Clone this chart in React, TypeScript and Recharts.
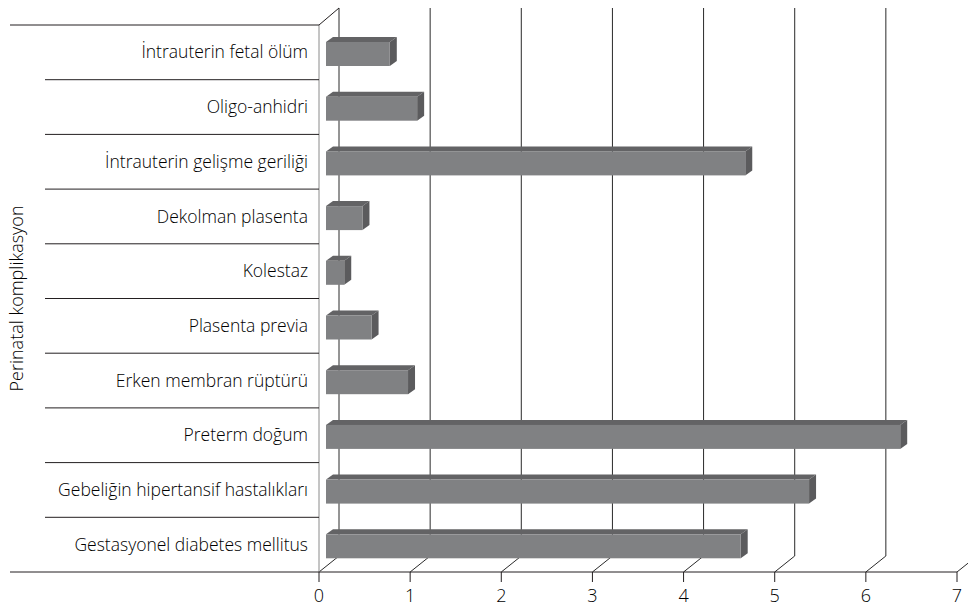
import React from 'react';
import { BarChart, Bar, XAxis, YAxis, CartesianGrid } from 'recharts';

const CATEGORIES = [
  'İntrauterin fetal ölüm',
  'Oligo-anhidri',
  'İntrauterin gelişme geriliği',
  'Dekolman plasenta',
  'Kolestaz',
  'Plasenta previa',
  'Erken membran rüptürü',
  'Preterm doğum',
  'Gebeliğin hipertansif hastalıkları',
  'Gestasyonel diabetes mellitus',
];

const VALUES = [0.7, 1.0, 4.6, 0.4, 0.2, 0.5, 0.9, 6.3, 5.3, 4.55];

const X_TICKS = [0, 1, 2, 3, 4, 5, 6, 7];

const data = CATEGORIES.map((name, i) => ({ name, value: VALUES[i] }));

// geometry of the fake 3d box
const W = 968;
const H = 609;
const PLOT_LEFT = 319;
const PLOT_TOP = 25;
const PLOT_BOTTOM = 572;
const DEPTH_X = 20;
const DEPTH_Y = 16;
const BAND = (PLOT_BOTTOM - PLOT_TOP) / CATEGORIES.length;
const FONT = '"Open Sans", sans-serif';
const TEXT = '#231f20';
const LABEL = '#000';

const Bar3D = (props: any) => {
  const { x, y, width, height } = props;
  if (width == null || width <= 0) return null;
  const fx = x + 7;
  const fy = y + 2;
  const dx = 7;
  const dy = 5;
  return (
    <g>
      <polygon
        points={`${fx},${fy} ${fx + dx},${fy - dy} ${fx + width + dx},${fy - dy} ${fx + width},${fy}`}
        fill="#636365"
      />
      <polygon
        points={`${fx + width},${fy} ${fx + width + dx},${fy - dy} ${fx + width + dx},${fy + height - dy} ${fx + width},${fy + height}`}
        fill="#5b5b5d"
      />
      <rect x={fx} y={fy} width={width} height={height} fill="#808183" />
    </g>
  );
};

// back wall gridlines, shifted into depth, with the floor diagonal
const GridLine = (props: any) => {
  const { x1, index } = props;
  const bx = x1 + DEPTH_X;
  const by = PLOT_BOTTOM - DEPTH_Y;
  return (
    <g key={`g-${index}`}>
      <line x1={x1} y1={PLOT_BOTTOM} x2={bx} y2={by} stroke="#2a2a2a" strokeWidth={1} />
      {bx < W && <line x1={bx} y1={by} x2={bx} y2={8} stroke="#2a2a2a" strokeWidth={1} />}
    </g>
  );
};

const CategoryTick = (props: any) => {
  const { x, y, payload, index } = props;
  const top = y - BAND / 2;
  const bottom = y + BAND / 2;
  const last = index === CATEGORIES.length - 1;
  return (
    <g>
      <line x1={index === 0 ? 10 : 45} y1={top} x2={PLOT_LEFT} y2={top} stroke={TEXT} strokeWidth={1} />
      {index === 0 && (
        <line x1={PLOT_LEFT} y1={top} x2={PLOT_LEFT + DEPTH_X} y2={top - 17} stroke={TEXT} strokeWidth={1} />
      )}
      {last && <line x1={10} y1={bottom} x2={PLOT_LEFT} y2={bottom} stroke={TEXT} strokeWidth={1} />}
      <text
        x={x - 3}
        y={y}
        dy="0.35em"
        textAnchor="end"
        fontSize={17.5}
        fontWeight={300}
        fill={LABEL}
        fontFamily={FONT}
      >
        {payload.value}
      </text>
    </g>
  );
};

export default function App() {
  return (
    <div style={{ position: 'absolute', left: 0, top: 0, background: '#fff' }}>
      <BarChart
        width={W}
        height={H}
        data={data}
        layout="vertical"
        margin={{ top: PLOT_TOP, right: 11, bottom: 0, left: 0 }}
        barCategoryGap={0}
      >
        <CartesianGrid horizontal={false} vertical={GridLine} />
        <XAxis
          type="number"
          domain={[0, 7]}
          ticks={X_TICKS}
          interval={0}
          axisLine={{ stroke: TEXT }}
          tickLine={{ stroke: TEXT }}
          tickSize={10}
          tickMargin={7}
          tick={{ fontSize: 18, fill: LABEL, fontFamily: FONT, fontWeight: 300 }}
          height={H - PLOT_BOTTOM}
        />
        <YAxis
          type="category"
          dataKey="name"
          width={PLOT_LEFT}
          axisLine={{ stroke: '#8a8a8a' }}
          tickLine={false}
          tick={CategoryTick}
          interval={0}
          label={{
            value: 'Perinatal komplikasyon',
            angle: -90,
            position: 'insideLeft',
            offset: 17,
            style: { fontSize: 18, fill: LABEL, fontFamily: FONT, fontWeight: 300, textAnchor: 'middle' },
          }}
        />
        <Bar dataKey="value" barSize={24} shape={Bar3D} isAnimationActive={false} />
      </BarChart>
    </div>
  );
}
